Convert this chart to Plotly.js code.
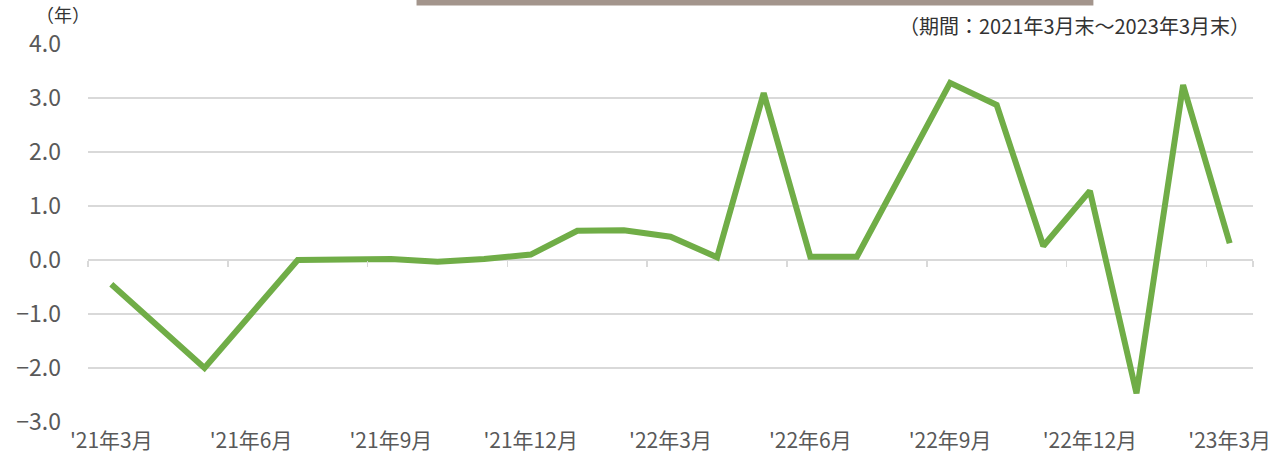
<!DOCTYPE html>
<html>
<head>
<meta charset="utf-8">
<script src="https://cdn.plot.ly/plotly-3.0.1.min.js"></script>
<style>
html,body{margin:0;padding:0;background:#fff;}
#chart{width:1275px;height:461px;}
</style>
</head>
<body>
<div id="chart"></div>
<script>
// Monthly categories, Mar 2021 – Mar 2023
const categories = [
  "2021-03","2021-04","2021-05","2021-06","2021-07","2021-08","2021-09",
  "2021-10","2021-11","2021-12","2022-01","2022-02","2022-03","2022-04",
  "2022-05","2022-06","2022-07","2022-08","2022-09","2022-10","2022-11",
  "2022-12","2023-01","2023-02","2023-03"
];
// Values (years); null = no point shown (line passes straight through)
const values = [
  -0.45, null, -2.0, null, 0.0, 0.01, 0.02,
  -0.03, 0.02, 0.10, 0.54, 0.55, 0.43, 0.05,
  3.09, 0.06, 0.06, null, 3.28, 2.87, 0.26,
  1.28, -2.47, 3.24, 0.31
];
const tickCats = ["2021-03","2021-06","2021-09","2021-12","2022-03","2022-06","2022-09","2022-12","2023-03"];
const tickLabels = ["'21年3月","'21年6月","'21年9月","'21年12月","'22年3月","'22年6月","'22年9月","'22年12月","'23年3月"];
const yTicks = [4,3,2,1,0,-1,-2,-3];
const yTickLabels = ["4.0","3.0","2.0","1.0","0.0","\u22121.0","\u22122.0","\u22123.0"];
const yRange = [-3, 4];

const FONT = '"Noto Sans CJK JP", "Noto Sans", sans-serif';
const GRID = '#d9d9d9';

const traces = [
  {
    x: categories, y: values, type: 'scatter', mode: 'lines',
    connectgaps: true,
    line: {color: '#70ad47', width: 6, shape: 'linear'},
    hoverinfo: 'skip', showlegend: false
  },
  { // invisible helper to drive the tick marks on the zero line
    x: categories, y: values, type: 'scatter', mode: 'lines',
    xaxis: 'x2', yaxis: 'y', opacity: 0,
    line: {width: 0}, hoverinfo: 'skip', showlegend: false
  }
];

const zeroPos = (0 - yRange[0]) / (yRange[1] - yRange[0]);

const layout = {
  width: 1275, height: 461,
  margin: {l: 88, r: 22, t: 44, b: 39},
  paper_bgcolor: '#ffffff', plot_bgcolor: '#ffffff',
  font: {family: FONT, color: '#595959'},
  showlegend: false,
  xaxis: {
    type: 'category', categoryorder: 'array', categoryarray: categories,
    range: [-0.5, categories.length - 0.5],
    tickvals: tickCats, ticktext: tickLabels,
    ticks: '', showgrid: false, showline: false, zeroline: false,
    tickfont: {family: FONT, size: 21, color: '#595959'},
    ticklabelstandoff: 4
  },
  xaxis2: {
    type: 'category', categoryorder: 'array', categoryarray: categories,
    range: [-0.5, categories.length - 0.5],
    overlaying: 'x', anchor: 'free', position: zeroPos,
    tickvals: tickCats, ticktext: tickLabels, tickson: 'boundaries',
    ticks: 'outside', ticklen: 6, tickwidth: 1.5, tickcolor: GRID,
    showticklabels: false, showgrid: false, showline: false, zeroline: false
  },
  yaxis: {
    range: yRange, tickvals: yTicks, ticktext: yTickLabels,
    showgrid: true, gridcolor: GRID, gridwidth: 1.5,
    zeroline: false, showline: false, ticks: '',
    tickfont: {family: FONT, size: 23, color: '#595959'},
    ticklabelstandoff: 26
  },
  shapes: [
    {
      type: 'rect', xref: 'paper', yref: 'paper',
      x0: 0.282, x1: 0.863, y0: 1.102, y1: 1.2,
      fillcolor: '#a3958c', line: {width: 0}, layer: 'above'
    }
  ],
  annotations: [
    {
      text: '（年）', xref: 'paper', yref: 'paper',
      x: -0.046, y: 1.08, xanchor: 'left', yanchor: 'middle',
      showarrow: false, font: {family: FONT, size: 18, color: '#333333'}
    },
    {
      text: '（期間：2021年3月末～2023年3月末）', xref: 'paper', yref: 'paper',
      x: 0.999, y: 1.05, xanchor: 'right', yanchor: 'middle',
      showarrow: false, font: {family: FONT, size: 20, color: '#333333'}
    }
  ]
};

Plotly.newPlot('chart', traces, layout, {displayModeBar: false, staticPlot: true});
</script>
</body>
</html>
